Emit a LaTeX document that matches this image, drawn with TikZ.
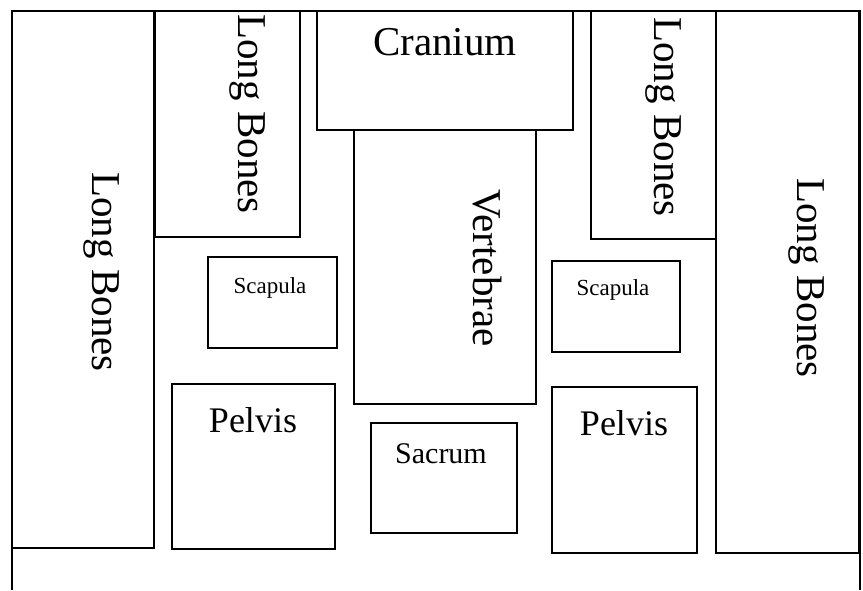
\documentclass[tikz,border=0pt]{standalone}
\usepackage{fontspec}
\setmainfont{Liberation Serif}
\usetikzlibrary{fit}
\begin{document}
\begin{tikzpicture}[x=1pt,y=-1pt,
  box/.style={draw, line width=1.7pt, inner sep=0pt, outer sep=0pt},
  frameline/.style={line width=1.3pt},
  bigtxt/.style={font=\fontsize{41}{41}\selectfont, inner sep=0pt, anchor=base},
  vtxt/.style={bigtxt, rotate=-90},
  pelvtxt/.style={font=\fontsize{36}{36}\selectfont, inner sep=0pt, anchor=base},
  sacrtxt/.style={font=\fontsize{30}{30}\selectfont, inner sep=0pt, anchor=base},
  scaptxt/.style={font=\fontsize{23}{23}\selectfont, inner sep=0pt, anchor=base}]
\useasboundingbox[fill=white] (0,0) rectangle (863,590);
% outer frame
\coordinate (fbl) at (12,590);
\coordinate (ftl) at (12,11);
\coordinate (ftr) at (860,11);
\coordinate (fbr) at (860,590);
\draw[frameline] (fbl) -- (ftl) -- (ftr) -- (fbr);
% boxes
\node[box, fit={(12,11)(154,548)}] (lbL) {};
\node[box, fit={(155,11)(300,237)}] (lbTL) {};
\node[box, fit={(317,11)(573,130)}] (cran) {};
\node[box, fit={(354,130)(536,404)}] (vert) {};
\node[box, fit={(591,11)(716,239)}] (lbTR) {};
\node[box, fit={(716,11)(859,553)}] (lbR) {};
\node[box, fit={(208,257)(337,348)}] (scapL) {};
\node[box, fit={(552,261)(680,352)}] (scapR) {};
\node[box, fit={(172,384)(335,549)}] (pelvL) {};
\node[box, fit={(552,387)(697,553)}] (pelvR) {};
\node[box, fit={(371,423)(517,533)}] (sacr) {};
% labels
\node[vtxt] (tlbL) at (92,272) {Long Bones};
\node[vtxt] (tlbTL) at (238,114) {Long Bones};
\node[vtxt] (tlbTR) at (654,117) {Long Bones};
\node[vtxt] (tlbR) at (797,278) {Long Bones};
\node[vtxt] (tvert) at (473,268) {Vertebrae};
\node[bigtxt] (tcran) at (445,55) {Cranium};
\node[scaptxt] (tscapL) at (270,293) {Scapula};
\node[scaptxt] (tscapR) at (613,295) {Scapula};
\node[pelvtxt] (tpelvL) at (253,432) {Pelvis};
\node[pelvtxt] (tpelvR) at (624,435) {Pelvis};
\node[sacrtxt] (tsacr) at (441,463) {Sacrum};
\end{tikzpicture}
\end{document}
